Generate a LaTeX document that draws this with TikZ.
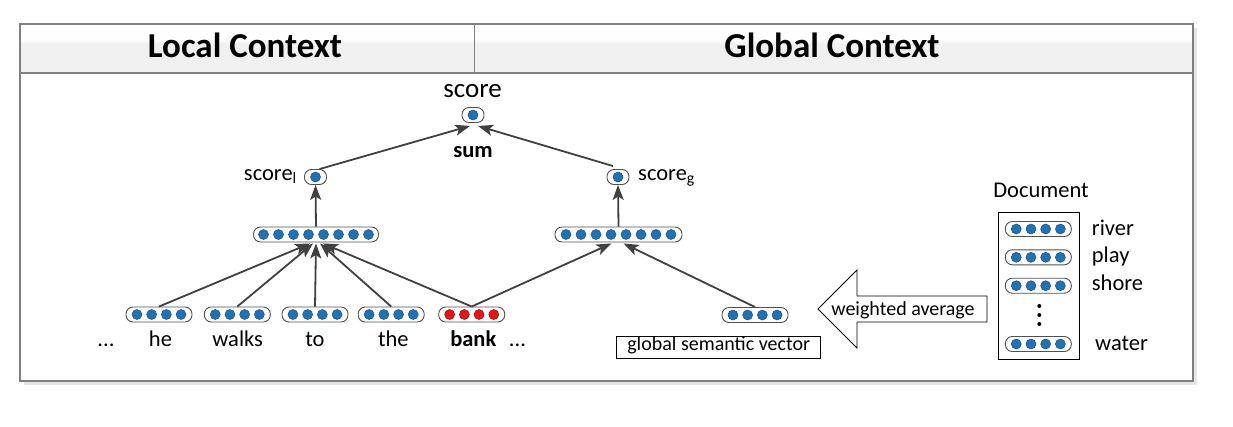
\documentclass[tikz,border=0pt]{standalone}
\usepackage{fontspec}
\setmainfont{Carlito}
\usetikzlibrary{arrows.meta,calc}
\definecolor{dotblue}{HTML}{1F72B8}
\definecolor{dotblueline}{HTML}{1B4F80}
\definecolor{dotred}{HTML}{E81414}
\definecolor{dotredline}{HTML}{8A1010}
\definecolor{edgecol}{HTML}{404040}
\definecolor{framecol}{HTML}{7F7F7F}
\definecolor{headfill}{HTML}{F0F0F0}
\definecolor{pillcol}{HTML}{505050}
\tikzset{
  pillbox/.style={draw=pillcol, line width=0.9pt, rounded corners=7pt, minimum height=15pt, inner sep=0pt, fill=white},
  bluedot/.style={fill=dotblue, draw=dotblueline, line width=0.5pt},
  reddot/.style={fill=dotred, draw=dotredline, line width=0.5pt},
  conn/.style={draw=edgecol, line width=1.8pt, -{Stealth[length=15pt,width=11pt,inset=3.5pt]}},
  lbl/.style={inner sep=0pt, anchor=base, font=\fontsize{22.5}{24}\selectfont},
  bigl/.style={inner sep=0pt, anchor=base, font=\fontsize{27}{29}\selectfont},
  smalll/.style={inner sep=0pt, anchor=base, font=\fontsize{20}{22}\selectfont},
  titlel/.style={inner sep=0pt, anchor=base, font=\fontsize{35}{37}\selectfont\bfseries},
  plainbox/.style={draw=black, line width=0.9pt, inner sep=0pt, fill=white},
}
% name, x, y, number of dots, width, dot style, dot spacing
\newcommand\vecnode[7]{%
  \node[pillbox, minimum width=#5pt] (#1) at (#2,#3) {};
  \foreach \k in {1,...,#4}{\path[#6] ($(#1.center)+({(\k-(#4+1)/2)*#7},0)$) circle (5pt);}
}
\begin{document}
\begin{tikzpicture}[x=1pt,y=-1pt]
\useasboundingbox (0,0) rectangle (1233,426);
% frame and header
\fill[white] (20,24) rectangle (1193,381);
\draw[gray!20, line width=2.5pt] (24,383.5) -- (1195.5,383.5) -- (1195.5,28);
\fill[white] (20,24) rectangle (1193,38);
\shade[top color=white, bottom color=headfill] (20,38) rectangle (1193,44);
\fill[headfill] (20,44) rectangle (1193,73);
\draw[framecol, line width=1.5pt] (20,24) rectangle (1193,381);
\draw[framecol, line width=1.5pt] (20,73) -- (1193,73);
\draw[framecol, line width=1pt] (474,24) -- (474,73);
\node[titlel] (tLocal) at (245,57.3) {Local Context};
\node[titlel] (tGlobal) at (832,57.3) {Global Context};

% vectors
\vecnode{S}{473}{115}{1}{22}{bluedot}{15}
\vecnode{sl}{315.5}{177}{1}{22}{bluedot}{15}
\vecnode{sg}{618}{177}{1}{22}{bluedot}{15}
\vecnode{hL}{316}{234.5}{8}{125}{bluedot}{15}
\vecnode{hR}{618.5}{234.5}{8}{127}{bluedot}{15}
\vecnode{vhe}{159}{314.5}{4}{66}{bluedot}{14.7}
\vecnode{vwalks}{237.3}{314.5}{4}{66}{bluedot}{14.7}
\vecnode{vto}{315}{314.5}{4}{66}{bluedot}{14.7}
\vecnode{vthe}{391.2}{314.5}{4}{66}{bluedot}{14.7}
\vecnode{vbank}{471.7}{314.5}{4}{66}{reddot}{14.7}
\vecnode{gv}{755}{315}{4}{66}{bluedot}{14.7}

% labels
\node[bigl] (lscore) at (472.5,97) {score};
\node[lbl, font=\fontsize{22.5}{24}\selectfont\bfseries] (lsum) at (473,157) {sum};
\node[lbl, anchor=base east] (lsl) at (297,180) {score\textsubscript{l}};
\node[lbl, anchor=base west] (lsg) at (638,180) {score\textsubscript{g}};
\node[lbl] (wdl) at (106,346) {...};
\node[lbl] (whe) at (160.5,346.5) {he};
\node[lbl] (wwalks) at (237.7,346.5) {walks};
\node[lbl] (wto) at (315,346.5) {to};
\node[lbl] (wthe) at (393.3,346.5) {the};
\node[lbl, font=\fontsize{22.5}{24}\selectfont\bfseries] (wbank) at (473.3,346.5) {bank};
\node[lbl] (wdr) at (517.5,346) {...};

% global semantic vector box
\node[plainbox, minimum width=204pt, minimum height=22.5pt] (gsvbox) at (718.7,347.2) {};
\node[smalll] (gsv) at (718.7,350.7) {global semantic vector};

% big arrow
\draw[black, line width=0.9pt, fill=white] (818,309) -- (857,270) -- (857,296) -- (987,296) -- (987,322) -- (857,322) -- (857,348) -- cycle;
\node[smalll] (wavg) at (903,315) {weighted average};

% document
\node[lbl] (ldoc) at (1041,197) {Document};
\node[plainbox, minimum width=81pt, minimum height=147pt] (docbox) at (1038.8,286) {};
\vecnode{d1}{1038.3}{229}{4}{66}{bluedot}{14.7}
\vecnode{d2}{1038.3}{257.3}{4}{66}{bluedot}{14.7}
\vecnode{d3}{1038.3}{285.7}{4}{66}{bluedot}{14.7}
\vecnode{d4}{1038.3}{344}{4}{66}{bluedot}{14.7}
\foreach \yy in {306,315,324} \fill[black] (1039.3,\yy) circle (2pt);
\node[lbl, anchor=base west] (lriver) at (1091.7,235) {river};
\node[lbl, anchor=base west] (lplay) at (1091.7,262.3) {play};
\node[lbl, anchor=base west] (lshore) at (1091.7,290.7) {shore};
\node[lbl, anchor=base west] (lwater) at (1095,350) {water};

% connectors
\draw[conn] (vhe.north) -- ([xshift=-6pt,yshift=-1pt]hL.south);
\draw[conn] (vwalks.north) -- ([xshift=-3pt,yshift=-1pt]hL.south);
\draw[conn] (vto.north) -- ([yshift=-1pt]hL.south);
\draw[conn] (vthe.north) -- ([xshift=4pt,yshift=-1pt]hL.south);
\draw[conn] (vbank.north) -- ([xshift=7pt,yshift=-1pt]hL.south);
\draw[conn] (vbank.north) -- ([xshift=-7pt,yshift=-1pt]hR.south);
\draw[conn] (gv.north) -- ([xshift=5pt,yshift=-1pt]hR.south);
\draw[conn] (hL.north) -- (sl.south);
\draw[conn] (hR.north) -- (sg.south);
\draw[conn] ([xshift=4pt]sl.north) -- ([xshift=-3pt,yshift=-3pt]S.south);
\draw[conn] ([xshift=-5pt,yshift=3pt]sg.north) -- ([xshift=5pt,yshift=-3pt]S.south);
\end{tikzpicture}
\end{document}
